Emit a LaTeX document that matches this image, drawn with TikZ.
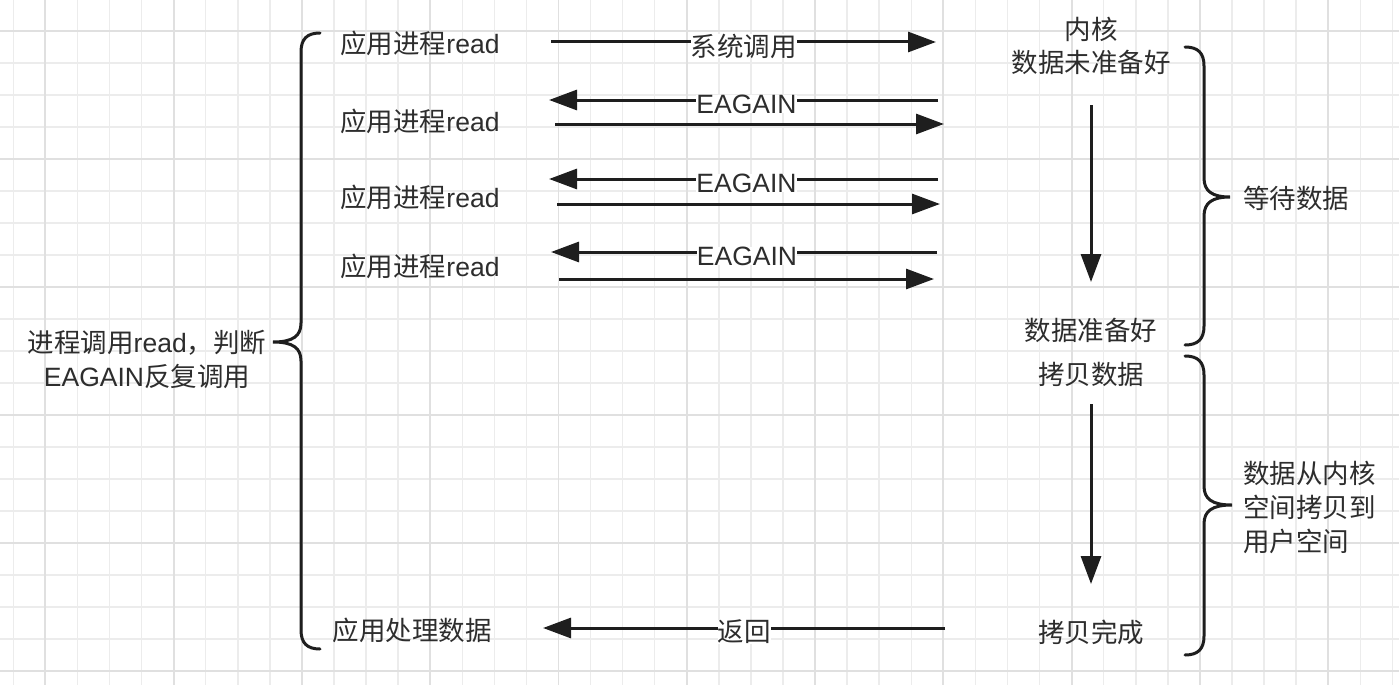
\documentclass[tikz,border=0pt]{standalone}
\usepackage{fontspec}
\setmainfont{Liberation Sans}
\newfontfamily\cjk{Noto Sans CJK SC}
\usetikzlibrary{arrows.meta}
\definecolor{txt}{RGB}{45,45,45}
\definecolor{gridminor}{RGB}{236,236,236}
\definecolor{gridmajor}{RGB}{224,224,224}
\definecolor{ink}{RGB}{30,30,30}
\begin{document}
\begin{tikzpicture}[x=1pt,y=-1pt,
  lbl/.style={text=txt,font=\fontsize{26.5}{34}\selectfont,inner sep=0pt,align=center},
  cjklbl/.style={text=txt,font={\cjk\fontsize{26.5}{34}\selectfont},inner sep=0pt,align=center},
  onarrow/.style={fill=white,inner xsep=6pt,inner ysep=4pt,yshift=-4pt},
  arr/.style={draw=ink,line width=3pt,-{Triangle[length=28pt,width=20pt]}},
  brace/.style={draw=ink,line width=3pt,line cap=round}]
\useasboundingbox (0,0) rectangle (1399,693);
\fill[white] (0,0) rectangle (1399,693);
% grid
\begin{scope}
\clip (0,0) rectangle (1399,685);
\foreach \i in {0,...,43} {\draw[gridminor,line width=1.5pt] ({13.3+32.07*\i},0) -- ({13.3+32.07*\i},685);}
\foreach \j in {0,...,21} {\draw[gridminor,line width=1.5pt] (0,{-1+32*\j}) -- (1399,{-1+32*\j});}
\foreach \i in {1,5,...,41} {\draw[gridmajor,line width=1.8pt] ({13.3+32.07*\i},0) -- ({13.3+32.07*\i},685);}
\foreach \j in {1,5,...,21} {\draw[gridmajor,line width=1.8pt] (0,{-1+32*\j}) -- (1399,{-1+32*\j});}
\end{scope}

% left labels
\node[lbl] (left) at (147,359) {{\cjk 进程调用}read{\cjk ，判断}\\EAGAIN{\cjk 反复调用}};
\node[lbl] (p1) at (420,43) {{\cjk 应用进程}read};
\node[lbl] (p2) at (420,121) {{\cjk 应用进程}read};
\node[lbl] (p3) at (420,197) {{\cjk 应用进程}read};
\node[lbl] (p4) at (420,266) {{\cjk 应用进程}read};
\node[cjklbl] (p5) at (412,630) {应用处理数据};

% kernel side
\node[cjklbl,font={\cjk\fontsize{26.5}{33}\selectfont}] (k0) at (1091,46) {内核\\数据未准备好};
\node[cjklbl] (k1) at (1091,330) {数据准备好};
\node[cjklbl] (k2) at (1091,374) {拷贝数据};
\node[cjklbl] (k3) at (1091,632) {拷贝完成};
\node[cjklbl,anchor=west] (w1) at (1243,198) {等待数据};
\node[cjklbl,anchor=west,align=left] (w2) at (1243,507) {数据从内核\\空间拷贝到\\用户空间};

% horizontal arrows
\coordinate (a1s) at (551,42);  \coordinate (a1e) at (936,42);
\coordinate (a2s) at (938,100); \coordinate (a2e) at (549,100);
\coordinate (a3s) at (555,124); \coordinate (a3e) at (944,124);
\coordinate (a4s) at (938,179); \coordinate (a4e) at (549,179);
\coordinate (a5s) at (557,204); \coordinate (a5e) at (940,204);
\coordinate (a6s) at (937,252); \coordinate (a6e) at (551,252);
\coordinate (a7s) at (559,279); \coordinate (a7e) at (934,279);
\coordinate (a8s) at (945,628); \coordinate (a8e) at (543,628);
\draw[arr] (a1s) -- node[onarrow,cjklbl] (l1) {系统调用} (a1e);
\draw[arr] (a2s) -- node[onarrow,lbl,xshift=3pt] (l2) {EAGAIN} (a2e);
\draw[arr] (a3s) -- (a3e);
\draw[arr] (a4s) -- node[onarrow,lbl,xshift=3pt] (l4) {EAGAIN} (a4e);
\draw[arr] (a5s) -- (a5e);
\draw[arr] (a6s) -- node[onarrow,lbl,xshift=3pt] (l6) {EAGAIN} (a6e);
\draw[arr] (a7s) -- (a7e);
\draw[arr] (a8s) -- node[onarrow,cjklbl] (l8) {返回} (a8e);

% vertical arrows
\coordinate (d1s) at (1091,105); \coordinate (d1e) at (1091,282);
\coordinate (d2s) at (1091,404); \coordinate (d2e) at (1091,584);
\draw[arr] (d1s) -- (d1e);
\draw[arr] (d2s) -- (d2e);

% braces
\draw[brace] (320,33) .. controls (307,33) and (301,39) .. (301,52) -- (301,323)
  .. controls (301,336) and (293,342) .. (273,342)
  .. controls (293,342) and (301,348) .. (301,361) -- (301,630)
  .. controls (301,643) and (307,649) .. (320,649);
\draw[brace] (1185,47) .. controls (1198,47) and (1204,53) .. (1204,66) -- (1204,178)
  .. controls (1204,191) and (1212,197) .. (1230,197)
  .. controls (1212,197) and (1204,203) .. (1204,216) -- (1204,326)
  .. controls (1204,339) and (1198,345) .. (1185,345);
\draw[brace] (1185,356) .. controls (1198,356) and (1204,362) .. (1204,375) -- (1204,486)
  .. controls (1204,499) and (1212,505) .. (1232,505)
  .. controls (1212,505) and (1204,511) .. (1204,524) -- (1204,636)
  .. controls (1204,649) and (1198,655) .. (1185,655);
\end{tikzpicture}
\end{document}
